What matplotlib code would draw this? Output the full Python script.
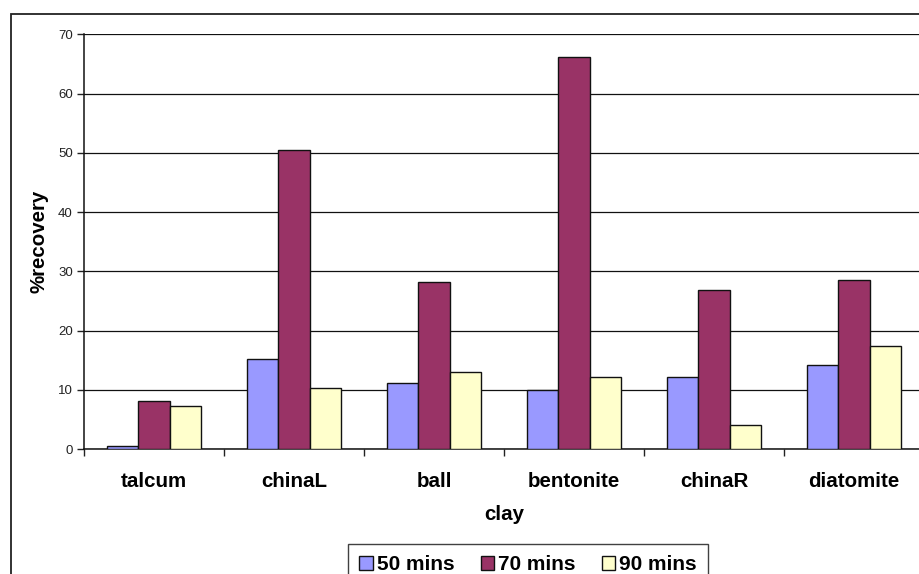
import matplotlib
matplotlib.use("Agg")
import matplotlib.pyplot as plt
import numpy as np
from matplotlib.patches import Rectangle

# Recovery (%) per clay type at three contact times
clays = ["talcum", "chinaL", "ball", "bentonite", "chinaR", "diatomite"]
series_names = ["50 mins", "70 mins", "90 mins"]
rec_50 = [0.5, 15.2, 11.2, 9.9, 12.1, 14.1]
rec_70 = [8.05, 50.5, 28.2, 66.2, 26.8, 28.6]
rec_90 = [7.3, 10.35, 13.0, 12.15, 4.0, 17.4]
y_ticks = [0, 10, 20, 30, 40, 50, 60, 70]

colors = ["#9999FF", "#993366", "#FFFFCC"]

plt.rcParams["font.family"] = ["Liberation Sans", "DejaVu Sans"]

W, H = 920, 574
fig = plt.figure(figsize=(W / 100, H / 100), dpi=100)
fig.patch.set_facecolor("white")

# outer chart frame (runs off the right and bottom edges)
frame = Rectangle((11 / W, -0.2), 1.2, 1.2 - 14 / H,
                  transform=fig.transFigure, fill=False,
                  edgecolor="#222222", linewidth=1.3, clip_on=False)
fig.patches.append(frame)

left, bottom = 84 / W, (H - 449) / H
ax = fig.add_axes([left, bottom, (924 - 84) / W, (449 - 34.3) / H])

x = np.arange(len(clays))
bw = 0.225
for k, vals in enumerate([rec_50, rec_70, rec_90]):
    ax.bar(x + (k - 1) * bw, vals, width=bw, color=colors[k],
           edgecolor="#111111", linewidth=1.0, label=series_names[k], zorder=3)

ax.set_xlim(-0.5, len(clays) - 0.5)
ax.set_ylim(0, 70)
ax.set_yticks(y_ticks)
ax.set_yticklabels([str(t) for t in y_ticks], fontsize=9.5, color="#222222")
ax.yaxis.grid(True, color="#111111", linewidth=0.9, zorder=0)
ax.set_axisbelow(True)

# category boundaries carry the tick marks, labels sit at centres
ax.set_xticks(np.arange(-0.5, len(clays) + 0.5, 1.0))
ax.set_xticklabels([])
ax.set_xticks(x, minor=True)
ax.set_xticklabels(clays, minor=True, fontsize=14.8, fontweight="bold")
ax.tick_params(axis="x", which="minor", length=0, pad=16.5)
ax.tick_params(axis="x", which="major", length=5, width=1, color="#222222")
ax.tick_params(axis="y", length=5, width=1, color="#222222", pad=3)

ax.spines["right"].set_visible(False)
ax.spines["top"].set_visible(False)
ax.spines["left"].set_color("#111111")
ax.spines["bottom"].set_color("#111111")
ax.spines["left"].set_linewidth(1.1)
ax.spines["bottom"].set_linewidth(1.1)

ax.set_xlabel("clay", fontsize=14.8, fontweight="bold", labelpad=10.5)
ax.set_ylabel("%recovery", fontsize=14.8, fontweight="bold", labelpad=7)

leg = fig.legend(loc="upper left", bbox_to_anchor=(348 / W, 1 - 544 / H),
                 ncol=3, frameon=True, fancybox=False,
                 prop={"weight": "bold", "size": 15},
                 handlelength=0.66, handleheight=0.66, handletextpad=0.18,
                 columnspacing=1.25, borderpad=0.55, borderaxespad=0)
leg.get_frame().set_edgecolor("#111111")
leg.get_frame().set_linewidth(1.0)

fig.savefig("out.png", dpi=100, facecolor="white")
